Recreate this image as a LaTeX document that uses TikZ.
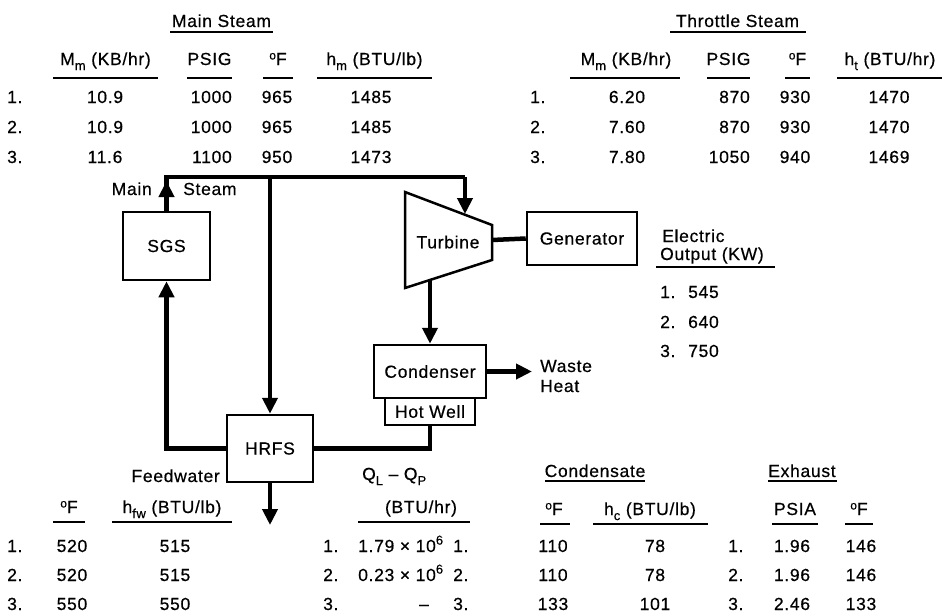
\documentclass[tikz,border=0pt]{standalone}
\usepackage{fontspec}
\setmainfont{Liberation Sans}[LetterSpace=4,FakeBold=0.5]
\usetikzlibrary{arrows.meta}
% small raised "o" of the degree sign, lowered subscripts, raised exponents
\newcommand\degF{\raisebox{0.6ex}{\fontsize{12}{12}\selectfont o}F}
\newcommand\lowsub[1]{\raisebox{-0.55ex}{\fontsize{13}{13}\selectfont #1}}
\newcommand\hisup[1]{\raisebox{0.8ex}{\fontsize{13}{13}\selectfont #1}}

\begin{document}
\begin{tikzpicture}[x=1pt,y=-1pt,
  every node/.style={font=\fontsize{17.5}{20}\selectfont, inner sep=0pt},
  lbl/.style={anchor=base},
  lblw/.style={anchor=base west},
  lble/.style={anchor=base east},
  unit/.style={draw, line width=2.5pt},
  pipe/.style={line width=4.5pt},
  flow/.style={line width=4.5pt, -{Triangle[length=16pt,width=15pt]}},
  rule/.style={line width=1.8pt}]

\fill[white] (0,0) rectangle (943,614);
\useasboundingbox (0,0) rectangle (943,614);

% ---------------- process units ----------------
\node[unit, minimum width=87pt, minimum height=68pt] (sgs) at (166.5,246) {SGS};
\node[unit, minimum width=110pt, minimum height=53pt] (gen) at (582,238.5) {Generator};
\node[unit, minimum width=112pt, minimum height=53pt] (cond) at (430,371.5) {Condenser};
\node[unit, minimum width=90pt, minimum height=27pt] (hw) at (430,411.5) {Hot Well};
\node[unit, minimum width=86pt, minimum height=67pt] (hrfs) at (270,448.5) {HRFS};

% turbine drawn as a trapezoid
\coordinate (t1) at (405,192);
\coordinate (t2) at (492,225);
\coordinate (t3) at (492,260);
\coordinate (t4) at (405,288);
\draw[line width=2.5pt, line join=miter] (t1) -- (t2) -- (t3) -- (t4) -- cycle;
\node (turb) at (448,242) {Turbine};
\coordinate (tin) at (465,214);
\coordinate (tout) at (492,240);
\coordinate (texh) at (430,280);

% ---------------- piping ----------------
\coordinate (msL) at (166.5,177);
\coordinate (msR) at (465,177);
\coordinate (msTip) at (166.5,181);
\draw[pipe] (sgs.north) |- (msR);
\draw[flow] (sgs.north) -- (msTip);
\draw[flow] (msR) -- (tin);
\draw[flow] (hrfs.north |- msL) -- (hrfs.north);
\draw[pipe] (tout) -- (gen.west);
\draw[flow] (texh) -- (cond.north);
\coordinate (wasteTip) at (532,371.5);
\draw[flow] (cond.east) -- (wasteTip);
\draw[pipe] (hw.south) |- (hrfs.east);
\draw[flow] (hrfs.west) -| (sgs.south);
\coordinate (fwTip) at (270,525);
\draw[flow] (hrfs.south) -- (fwTip);

% ---------------- flow labels ----------------
\node[lble] (mainL) at (152,195) {Main};
\node[lblw] (steamL) at (183,195) {Steam};
\node[lblw] (waste) at (540,372) {Waste};
\node[lblw] (heat) at (540,392) {Heat};
\node[lble] (fwL) at (220,482) {Feedwater};
\node[lblw] (qlqp) at (362,480) {Q\lowsub{L} -- Q\lowsub{P}};

% ---------------- main steam table ----------------
\node[lbl] (msT) at (221.5,27) {Main Steam};
\draw[rule] (170,32) -- (273,32);
\node[lbl] (msH1) at (105.5,65) {M\lowsub{m} (KB/hr)};
\node[lbl] (msH2) at (209.5,65) {PSIG};
\node[lbl] (msH3) at (278,65) {\degF};
\node[lbl] (msH4) at (374.5,65) {h\lowsub{m} (BTU/lb)};
\draw[rule] (53,78) -- (158,78);
\draw[rule] (187,78) -- (232,78);
\draw[rule] (263,78) -- (293,78);
\draw[rule] (317,78) -- (432,78);
\foreach \yy/\nn/\va/\vb/\vc/\vd in {103/1/10.9/1000/965/1485,
    133/2/10.9/1000/965/1485, 163/3/11.6/1100/950/1473} {
  \node[lblw] (ms\nn n) at (7,\yy) {\nn.};
  \node[lbl]  (ms\nn a) at (105,\yy) {\va};
  \node[lble] (ms\nn b) at (232,\yy) {\vb};
  \node[lbl]  (ms\nn c) at (277,\yy) {\vc};
  \node[lbl]  (ms\nn d) at (371,\yy) {\vd};
}

% ---------------- throttle steam table ----------------
\node[lbl] (tsT) at (737.5,27) {Throttle Steam};
\draw[rule] (670,32) -- (806,32);
\node[lbl] (tsH1) at (626,65) {M\lowsub{m} (KB/hr)};
\node[lbl] (tsH2) at (728.5,65) {PSIG};
\node[lbl] (tsH3) at (797.5,65) {\degF};
\node[lbl] (tsH4) at (890,65) {h\lowsub{t} (BTU/hr)};
\draw[rule] (570,78) -- (680,78);
\draw[rule] (707,78) -- (750,78);
\draw[rule] (785,78) -- (810,78);
\draw[rule] (837,78) -- (942,78);
\foreach \yy/\nn/\va/\vb/\vc/\vd in {103/1/6.20/870/930/1470,
    133/2/7.60/870/930/1470, 163/3/7.80/1050/940/1469} {
  \node[lblw] (ts\nn n) at (530,\yy) {\nn.};
  \node[lbl]  (ts\nn a) at (627,\yy) {\va};
  \node[lble] (ts\nn b) at (750,\yy) {\vb};
  \node[lbl]  (ts\nn c) at (795,\yy) {\vc};
  \node[lbl]  (ts\nn d) at (889,\yy) {\vd};
}

% ---------------- electric output ----------------
\node[lblw] (elT1) at (662,242) {Electric};
\node[lblw] (elT2) at (660,260) {Output (KW)};
\draw[rule] (656,267) -- (775,267);
\foreach \yy/\nn/\va in {298/1/545, 328/2/640, 357/3/750} {
  \node[lblw] (el\nn n) at (660,\yy) {\nn.};
  \node[lblw] (el\nn a) at (688,\yy) {\va};
}

% ---------------- feedwater table ----------------
\node[lbl] (fwH1) at (69,513) {\degF};
\node[lbl] (fwH2) at (172,513) {h\lowsub{fw} (BTU/lb)};
\draw[rule] (53,522) -- (85,522);
\draw[rule] (112,522) -- (232,522);
\foreach \yy/\nn/\va/\vb in {552/1/520/515, 581/2/520/515, 610/3/550/550} {
  \node[lblw] (fw\nn n) at (7,\yy) {\nn.};
  \node[lbl]  (fw\nn a) at (72,\yy) {\va};
  \node[lbl]  (fw\nn b) at (175,\yy) {\vb};
}

% ---------------- heat balance table ----------------
\node[lbl] (qH) at (421,513) {(BTU/hr)};
\draw[rule] (358,522) -- (470,522);
\node[lblw] (q1n) at (323,552) {1.};
\node[lblw] (q1a) at (358,552) {1.79 × 10\hisup{6}};
\node[lblw] (q2n) at (323,581) {2.};
\node[lblw] (q2a) at (358,581) {0.23 × 10\hisup{6}};
\node[lblw] (q3n) at (323,610) {3.};
\node[lbl]  (q3a) at (424,610) {--};

% ---------------- condensate table ----------------
\node[lbl] (cdT) at (595,477) {Condensate};
\draw[rule] (545,481) -- (645,481);
\node[lbl] (cdH1) at (554,515) {\degF};
\node[lbl] (cdH2) at (650,515) {h\lowsub{c} (BTU/lb)};
\draw[rule] (540,524) -- (570,524);
\draw[rule] (593,524) -- (708,524);
\foreach \yy/\nn/\va/\vb in {552/1/110/78, 581/2/110/78, 610/3/133/101} {
  \node[lblw] (cd\nn n) at (453,\yy) {\nn.};
  \node[lbl]  (cd\nn a) at (553,\yy) {\va};
  \node[lbl]  (cd\nn b) at (655,\yy) {\vb};
}

% ---------------- exhaust table ----------------
\node[lbl] (exT) at (802,477) {Exhaust};
\draw[rule] (768,481) -- (837,481);
\node[lbl] (exH1) at (795,515) {PSIA};
\node[lbl] (exH2) at (859,515) {\degF};
\draw[rule] (772,524) -- (818,524);
\draw[rule] (845,524) -- (873,524);
\foreach \yy/\nn/\va/\vb in {552/1/1.96/146, 581/2/1.96/146, 610/3/2.46/133} {
  \node[lblw] (ex\nn n) at (728,\yy) {\nn.};
  \node[lbl]  (ex\nn a) at (792,\yy) {\va};
  \node[lbl]  (ex\nn b) at (861,\yy) {\vb};
}
\end{tikzpicture}
\end{document}
